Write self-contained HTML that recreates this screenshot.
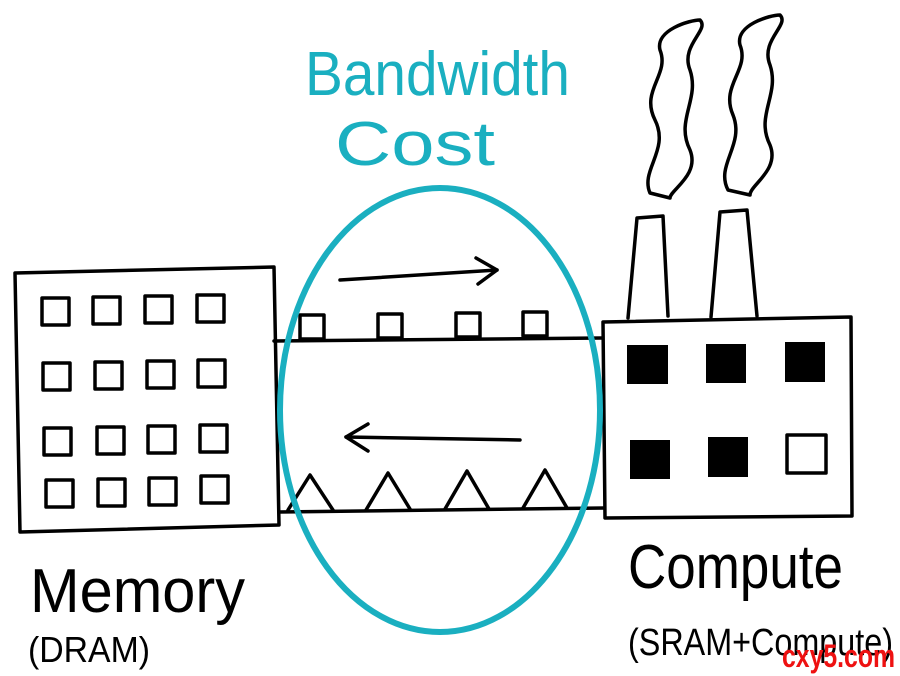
<!DOCTYPE html>
<html><head><style>
html,body{margin:0;padding:0;background:#fff;}
svg{display:block;}
.h{font-family:"Liberation Sans",sans-serif;font-weight:normal;}
</style></head><body>
<svg width="900" height="676" viewBox="0 0 900 676" xmlns="http://www.w3.org/2000/svg">
<g fill="none" stroke="#000" stroke-width="3.5" stroke-linejoin="round" stroke-linecap="round">
<!-- Memory building -->
<path d="M15,273 L274,267 L279,525 L20,532 Z"/>
<g>
<rect x="42" y="298" width="27" height="27"/><rect x="93" y="297" width="27" height="27"/><rect x="145" y="296" width="27" height="27"/><rect x="197" y="295" width="27" height="27"/>
<rect x="43" y="363" width="27" height="27"/><rect x="95" y="362" width="27" height="27"/><rect x="147" y="361" width="27" height="27"/><rect x="198" y="360" width="27" height="27"/>
<rect x="44" y="428" width="27" height="27"/><rect x="97" y="427" width="27" height="27"/><rect x="148" y="426" width="27" height="27"/><rect x="200" y="425" width="27" height="27"/>
<rect x="46" y="480" width="27" height="27"/><rect x="98" y="479" width="27" height="27"/><rect x="149" y="478" width="27" height="27"/><rect x="201" y="476" width="27" height="27"/>
</g>
<!-- conveyor -->
<path d="M274,341 L602,338"/>
<path d="M279,512 L604,508"/>
<rect x="300" y="315" width="24" height="24"/><rect x="378" y="314" width="24" height="24"/><rect x="456" y="313" width="24" height="24"/><rect x="523" y="312" width="24" height="24"/>
<path d="M288,510 L310,475 L333,510"/><path d="M366,510 L388,473 L410,509"/><path d="M445,509 L467,471 L489,509"/><path d="M523,508 L545,470 L567,508"/>
<!-- arrows -->
<path d="M340,280 L497,270"/><path d="M476,258 L497,270 L478,284"/>
<path d="M520,440 L346,437"/><path d="M368,424 L346,437 L368,451"/>
<!-- compute -->
<path d="M603,322 L851,317 L852,516 L605,518 Z"/>
<path d="M628,318 L637,218 L663,216 L668,316"/>
<path d="M711,317 L720,212 L747,210 L757,316"/>
<path d="M650,193 C640,170 670,150 655,120 C640,90 670,75 660,50 C655,30 690,20 700,20 C710,30 680,45 690,70 C700,100 675,120 690,150 C700,175 670,190 670,198 Z"/>
<path d="M728,190 C715,165 745,145 733,115 C720,85 750,70 740,45 C735,25 770,15 780,15 C790,25 760,40 770,65 C780,95 755,115 770,145 C780,170 750,185 750,195 Z"/>
<rect x="787" y="435" width="39" height="38"/>
</g>
<g fill="#000">
<rect x="627" y="345" width="41" height="39"/><rect x="706" y="344" width="40" height="39"/><rect x="785" y="342" width="40" height="40"/>
<rect x="630" y="440" width="40" height="39"/><rect x="708" y="437" width="40" height="40"/>
</g>
<ellipse cx="440" cy="410" rx="160" ry="222" fill="none" stroke="#1AAFC0" stroke-width="6"/>
<text class="h" x="305" y="95" font-size="62" fill="#1AAFC0" textLength="265" lengthAdjust="spacingAndGlyphs">Bandwidth</text>
<text class="h" x="335" y="165" font-size="62" fill="#1AAFC0" textLength="160" lengthAdjust="spacingAndGlyphs">Cost</text>
<text class="h" x="30" y="612" font-size="62" textLength="215" lengthAdjust="spacingAndGlyphs">Memory</text>
<text class="h" x="28" y="662" font-size="36" textLength="122" lengthAdjust="spacingAndGlyphs">(DRAM)</text>
<text class="h" x="628" y="588" font-size="62" textLength="215" lengthAdjust="spacingAndGlyphs">Compute</text>
<text class="h" x="628" y="655" font-size="38" textLength="265" lengthAdjust="spacingAndGlyphs">(SRAM+Compute)</text>
<text x="782" y="667" font-family="Liberation Sans,sans-serif" font-weight="bold" font-size="32" fill="#ee1111" textLength="113" lengthAdjust="spacingAndGlyphs">cxy5.com</text>
</svg>
</body></html>
